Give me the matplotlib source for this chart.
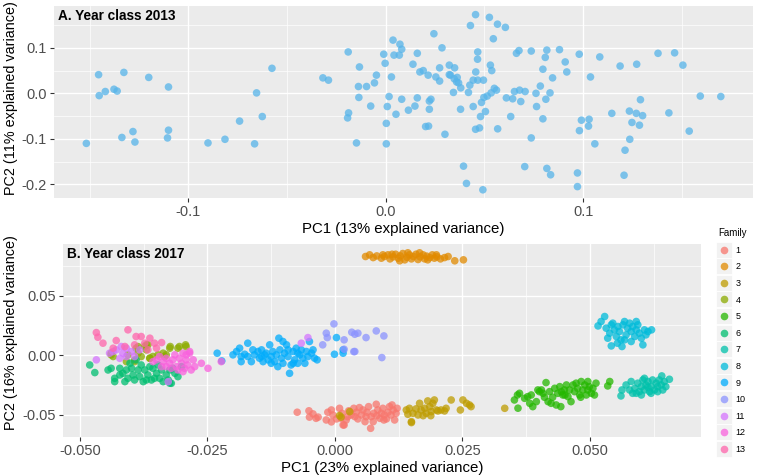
import matplotlib.pyplot as plt
from matplotlib.lines import Line2D
from matplotlib.legend_handler import HandlerTuple

plt.rcParams['font.family'] = ['Liberation Sans', 'DejaVu Sans']

# ---- panel A: year class 2013 (PC1, PC2)
pts_2013 = [
    (-0.1516, -0.110), (-0.1454, 0.041), (-0.1451, -0.005), (-0.1420, 0.004), (-0.1376, 0.009),
    (-0.1360, 0.005), (-0.1326, 0.046), (-0.1336, -0.097), (-0.1280, -0.084), (-0.1270, -0.107),
    (-0.1200, 0.035), (-0.1100, 0.014), (-0.1100, -0.081), (-0.1105, -0.098), (-0.0900, -0.109),
    (-0.0814, -0.101), (-0.0740, -0.061), (-0.0654, 0.001), (-0.0664, -0.111), (-0.0625, -0.051),
    (-0.0576, 0.055), (-0.0318, 0.034), (-0.0290, 0.029), (-0.0190, 0.091), (-0.0133, 0.058),
    (-0.0138, 0.015), (-0.0136, -0.009), (-0.0097, 0.015), (-0.0047, 0.040), (-0.0057, 0.023),
    (-0.0076, -0.028), (-0.0188, -0.043), (-0.0193, -0.054), (-0.0148, -0.109),
    (-0.0010, 0.086), (-0.0003, 0.066), (0.0003, -0.066), (0.0003, -0.111), (0.0008, -0.029),
    (0.0017, -0.007), (0.0029, 0.036), (0.0037, 0.117), (0.0042, 0.084), (0.0052, -0.046),
    (0.0069, 0.084), (0.0072, 0.108), (0.0081, 0.097), (0.0081, -0.013), (0.0115, -0.037),
    (0.0138, 0.064), (0.0148, -0.028), (0.0160, 0.088), (0.0160, -0.010), (0.0173, 0.047),
    (0.0190, 0.050), (0.0202, -0.073), (0.0217, -0.072), (0.0215, 0.040), (0.0221, -0.035),
    (0.0221, -0.017), (0.0229, -0.013), (0.0244, 0.131), (0.0254, 0.036), (0.0273, 0.027),
    (0.0273, 0.056), (0.0285, 0.100), (0.0300, -0.090), (0.0322, 0.062), (0.0322, 0.041),
    (0.0328, 0.040), (0.0343, 0.002), (0.0349, 0.056), (0.0347, 0.032), (0.0362, 0.035),
    (0.0359, 0.025), (0.0369, 0.023), (0.0380, 0.012), (0.0379, -0.035), (0.0394, -0.160),
    (0.0409, -0.198), (0.0419, 0.002), (0.0426, 0.018), (0.0429, 0.149), (0.0443, -0.029),
    (0.0443, 0.029), (0.0455, 0.173), (0.0456, 0.047), (0.0465, 0.075), (0.0466, 0.091),
    (0.0466, 0.029), (0.0455, -0.079), (0.0475, -0.076), (0.0480, -0.051), (0.0485, -0.020),
    (0.0492, -0.212), (0.0495, 0.029), (0.0497, -0.009), (0.0505, -0.040), (0.0514, -0.006),
    (0.0525, 0.167), (0.0530, 0.062), (0.0537, 0.050), (0.0534, 0.001), (0.0545, 0.120),
    (0.0550, 0.011), (0.0561, 0.007), (0.0566, 0.152), (0.0567, -0.078), (0.0606, 0.145),
    (0.0611, -0.010), (0.0633, -0.051), (0.0643, -0.012), (0.0652, 0.004), (0.0662, 0.088),
    (0.0675, 0.094), (0.0678, 0.007), (0.0684, -0.018), (0.0706, 0.004), (0.0704, -0.161),
    (0.0737, 0.093), (0.0737, -0.098), (0.0761, 0.000), (0.0764, -0.029), (0.0783, 0.016),
    (0.0796, 0.053), (0.0796, -0.056), (0.0808, 0.079), (0.0811, -0.013), (0.0816, 0.095),
    (0.0816, -0.165), (0.0832, 0.001), (0.0835, -0.179), (0.0845, 0.034), (0.0880, 0.096),
    (0.0909, 0.069), (0.0917, 0.047), (0.0971, -0.175), (0.0971, -0.205), (0.0980, 0.086),
    (0.0981, -0.082), (0.0991, -0.059), (0.1027, -0.072), (0.1030, -0.057), (0.1037, 0.036),
    (0.1059, -0.111), (0.1084, 0.080), (0.1145, -0.044), (0.1187, 0.060), (0.1207, -0.180),
    (0.1212, -0.125), (0.1234, -0.039), (0.1236, -0.101), (0.1247, -0.064), (0.1271, 0.064),
    (0.1269, -0.044), (0.1285, -0.070), (0.1290, -0.014), (0.1301, -0.049), (0.1379, 0.088),
    (0.1434, -0.043), (0.1463, 0.089), (0.1505, 0.062), (0.1537, -0.083), (0.1593, -0.006),
    (0.1697, -0.007),
]

# ---- panel B: year class 2017, one list per family
fam1 = [
    (-0.0074, -0.0479), (-0.0051, -0.0467), (-0.0043, -0.0493), (-0.0037, -0.0530), (-0.0017, -0.0544),
    (-0.0014, -0.0479), (-0.0007, -0.0460), (-0.0004, -0.0502), (0.0003, -0.0535), (0.0009, -0.0446),
    (0.0014, -0.0488), (0.0018, -0.0586), (0.0022, -0.0544), (0.0027, -0.0467), (0.0032, -0.0502),
    (0.0037, -0.0446), (0.0042, -0.0479), (0.0045, -0.0535), (0.0052, -0.0502), (0.0055, -0.0460),
    (0.0059, -0.0558), (0.0063, -0.0479), (0.0066, -0.0432), (0.0070, -0.0614), (0.0071, -0.0516),
    (0.0076, -0.0488), (0.0081, -0.0412), (0.0084, -0.0460), (0.0088, -0.0530), (0.0091, -0.0488),
    (0.0094, -0.0446), (0.0097, -0.0502), (0.0101, -0.0535), (0.0104, -0.0479), (0.0107, -0.0432),
    (0.0110, -0.0502), (0.0114, -0.0460), (0.0117, -0.0544), (0.0120, -0.0488), (0.0122, -0.0446),
    (0.0048, -0.0440), (0.0039, -0.0516), (0.0025, -0.0516), (0.0012, -0.0530), (0.0061, -0.0516),
    (0.0075, -0.0558), (0.0082, -0.0508), (0.0096, -0.0544), (0.0112, -0.0418), (-0.0050, -0.0520),
    (-0.0033, -0.0520), (-0.0007, -0.0560), (0.0016, -0.0586),
]
fam2 = [
    (0.0060, 0.0829), (0.0068, 0.0843), (0.0075, 0.0820), (0.0082, 0.0834), (0.0091, 0.0815),
    (0.0097, 0.0829), (0.0104, 0.0843), (0.0108, 0.0809), (0.0114, 0.0826), (0.0119, 0.0848),
    (0.0124, 0.0815), (0.0128, 0.0834), (0.0133, 0.0854), (0.0137, 0.0801), (0.0141, 0.0823),
    (0.0146, 0.0843), (0.0150, 0.0809), (0.0154, 0.0829), (0.0159, 0.0848), (0.0163, 0.0804),
    (0.0167, 0.0826), (0.0173, 0.0843), (0.0176, 0.0809), (0.0180, 0.0832), (0.0186, 0.0820),
    (0.0191, 0.0843), (0.0195, 0.0815), (0.0200, 0.0826), (0.0207, 0.0809), (0.0215, 0.0820),
    (0.0222, 0.0829), (0.0235, 0.0793), (0.0252, 0.0801), (0.0127, 0.0793), (0.0143, 0.0860),
    (0.0166, 0.0860), (0.0182, 0.0801), (0.0112, 0.0848), (0.0094, 0.0843), (0.0199, 0.0843),
]
fam3 = [
    (0.0140, -0.0460), (0.0146, -0.0446), (0.0150, -0.0558), (0.0153, -0.0488), (0.0159, -0.0451),
    (0.0163, -0.0502), (0.0169, -0.0460), (0.0173, -0.0508), (0.0176, -0.0446), (0.0179, -0.0488),
    (0.0182, -0.0384), (0.0186, -0.0432), (0.0189, -0.0474), (0.0192, -0.0404), (0.0195, -0.0376),
    (0.0199, -0.0460), (0.0202, -0.0468), (0.0208, -0.0460), (0.0215, -0.0468), (0.0218, -0.0446),
    (0.0228, -0.0376), (0.0246, -0.0460), (0.0251, -0.0376), (0.0258, -0.0404), (0.0264, -0.0418),
    (0.0267, -0.0432), (0.0143, -0.0496), (0.0166, -0.0404), (0.0188, -0.0508), (0.0333, -0.0446),
    (0.0150, -0.0566), (0.0009, -0.0507), (0.0029, -0.0474), (0.0012, -0.0520),
]
fam4 = [
    (-0.0439, 0.0017), (-0.0435, -0.0011), (-0.0409, -0.0054), (-0.0406, 0.0003), (-0.0390, 0.0059),
    (-0.0386, 0.0017), (-0.0380, -0.0011), (-0.0373, 0.0073), (-0.0370, 0.0045), (-0.0367, 0.0087),
    (-0.0363, -0.0026), (-0.0357, -0.0011), (-0.0347, 0.0003), (-0.0337, 0.0017), (-0.0331, 0.0003),
    (-0.0323, 0.0073), (-0.0305, 0.0073), (-0.0293, 0.0087), (-0.0393, -0.0054), (-0.0439, 0.0003),
    (-0.0386, 0.0072), (-0.0370, 0.0087), (-0.0324, 0.0059), (-0.0308, 0.0059), (-0.0292, 0.0072),
    (-0.0334, -0.0012), (-0.0393, -0.0040), (-0.0363, -0.0025),
]
fam5 = [
    (0.0352, -0.0376), (0.0358, -0.0334), (0.0362, -0.0320), (0.0359, -0.0445), (0.0372, -0.0362),
    (0.0378, -0.0348), (0.0382, -0.0404), (0.0385, -0.0334), (0.0388, -0.0432), (0.0395, -0.0390),
    (0.0398, -0.0292), (0.0401, -0.0306), (0.0405, -0.0292), (0.0408, -0.0320), (0.0414, -0.0230),
    (0.0418, -0.0390), (0.0421, -0.0306), (0.0424, -0.0404), (0.0427, -0.0353), (0.0431, -0.0278),
    (0.0434, -0.0418), (0.0437, -0.0320), (0.0441, -0.0264), (0.0443, -0.0432), (0.0444, -0.0306),
    (0.0447, -0.0334), (0.0450, -0.0292), (0.0454, -0.0250), (0.0457, -0.0348), (0.0460, -0.0292),
    (0.0463, -0.0390), (0.0467, -0.0250), (0.0470, -0.0306), (0.0473, -0.0235), (0.0476, -0.0278),
    (0.0480, -0.0334), (0.0483, -0.0221), (0.0486, -0.0292), (0.0490, -0.0250), (0.0493, -0.0334),
    (0.0496, -0.0292), (0.0499, -0.0264), (0.0503, -0.0320), (0.0506, -0.0278), (0.0509, -0.0334),
    (0.0512, -0.0235), (0.0535, -0.0258), (0.0539, -0.0221), (0.0411, -0.0353), (0.0451, -0.0334),
    (0.0482, -0.0353), (0.0496, -0.0221),
]
fam6 = [
    (-0.0481, -0.0082), (-0.0471, -0.0146), (-0.0445, -0.0124), (-0.0439, -0.0110), (-0.0432, -0.0194),
    (-0.0432, -0.0222), (-0.0422, -0.0110), (-0.0416, -0.0152), (-0.0409, -0.0124), (-0.0406, -0.0194),
    (-0.0399, -0.0110), (-0.0396, -0.0166), (-0.0393, -0.0208), (-0.0386, -0.0124), (-0.0383, -0.0180),
    (-0.0376, -0.0222), (-0.0373, -0.0124), (-0.0367, -0.0166), (-0.0360, -0.0208), (-0.0357, -0.0110),
    (-0.0350, -0.0152), (-0.0344, -0.0194), (-0.0340, -0.0124), (-0.0337, -0.0222), (-0.0331, -0.0166),
    (-0.0324, -0.0124), (-0.0321, -0.0236), (-0.0314, -0.0152), (-0.0308, -0.0180), (-0.0301, -0.0096),
    (-0.0390, -0.0039), (-0.0380, -0.0082), (-0.0363, -0.0096), (-0.0347, -0.0082), (-0.0422, -0.0166),
    (-0.0402, -0.0068), (-0.0327, -0.0208), (-0.0318, -0.0110), (-0.0370, -0.0208), (-0.0354, -0.0194),
    (-0.0412, -0.0222), (-0.0324, -0.0235),
]
fam7 = [
    (0.0561, -0.0342), (0.0563, -0.0292), (0.0571, -0.0250), (0.0578, -0.0292), (0.0584, -0.0320),
    (0.0588, -0.0278), (0.0594, -0.0235), (0.0597, -0.0306), (0.0601, -0.0264), (0.0604, -0.0208),
    (0.0607, -0.0292), (0.0610, -0.0250), (0.0614, -0.0221), (0.0617, -0.0306), (0.0620, -0.0264),
    (0.0623, -0.0208), (0.0627, -0.0292), (0.0630, -0.0235), (0.0633, -0.0264), (0.0636, -0.0208),
    (0.0640, -0.0250), (0.0641, -0.0174), (0.0646, -0.0221), (0.0649, -0.0264), (0.0656, -0.0202),
    (0.0581, -0.0221), (0.0591, -0.0320), (0.0607, -0.0194), (0.0620, -0.0320), (0.0633, -0.0306),
    (0.0643, -0.0292), (0.0614, -0.0269), (0.0601, -0.0334),
]
fam8 = [
    (0.0516, 0.0246), (0.0522, 0.0283), (0.0529, 0.0325), (0.0532, 0.0227), (0.0535, 0.0143),
    (0.0539, 0.0185), (0.0542, 0.0255), (0.0542, 0.0078), (0.0545, 0.0269), (0.0548, 0.0213),
    (0.0552, 0.0157), (0.0555, 0.0241), (0.0558, 0.0199), (0.0561, 0.0129), (0.0563, 0.0073),
    (0.0565, 0.0255), (0.0568, 0.0283), (0.0571, 0.0171), (0.0574, 0.0227), (0.0578, 0.0269),
    (0.0581, 0.0115), (0.0581, 0.0199), (0.0584, 0.0241), (0.0588, 0.0157), (0.0591, 0.0213),
    (0.0594, 0.0255), (0.0597, 0.0185), (0.0601, 0.0143), (0.0604, 0.0087), (0.0607, 0.0213),
    (0.0610, 0.0171), (0.0614, 0.0199), (0.0621, 0.0213), (0.0568, 0.0129), (0.0554, 0.0101),
    (0.0591, 0.0283),
]
fam9 = [
    (-0.0231, 0.0017), (-0.0200, 0.0003), (-0.0193, 0.0031), (-0.0187, 0.0059), (-0.0184, -0.0011),
    (-0.0177, 0.0008), (-0.0171, 0.0101), (-0.0164, -0.0054), (-0.0158, 0.0003), (-0.0151, 0.0031),
    (-0.0148, -0.0025), (-0.0144, 0.0045), (-0.0141, -0.0054), (-0.0138, 0.0003), (-0.0135, 0.0017),
    (-0.0131, -0.0039), (-0.0128, 0.0087), (-0.0125, -0.0011), (-0.0122, 0.0031), (-0.0118, -0.0054),
    (-0.0115, 0.0003), (-0.0112, -0.0096), (-0.0110, 0.0143), (-0.0108, 0.0045), (-0.0105, -0.0025),
    (-0.0102, 0.0115), (-0.0099, 0.0017), (-0.0095, 0.0087), (-0.0092, -0.0011), (-0.0089, -0.0152),
    (-0.0086, -0.0082), (-0.0082, 0.0031), (-0.0079, -0.0039), (-0.0076, 0.0059), (-0.0073, -0.0068),
    (-0.0069, 0.0003), (-0.0066, 0.0045), (-0.0063, -0.0025), (-0.0059, -0.0068), (-0.0056, 0.0031),
    (-0.0053, -0.0011), (-0.0050, 0.0115), (-0.0046, 0.0017), (-0.0043, 0.0045), (-0.0040, -0.0025),
    (-0.0035, -0.0039), (0.0003, 0.0148), (-0.0001, 0.0008), (0.0016, 0.0045), (0.0016, 0.0017),
    (-0.0184, -0.0054), (-0.0161, 0.0045), (-0.0125, -0.0068), (-0.0092, 0.0045), (-0.0073, 0.0017),
    (-0.0082, -0.0068), (-0.0102, -0.0068), (-0.0144, -0.0011), (-0.0171, -0.0011), (-0.0222, -0.0048),
]
fam10 = [
    (-0.0024, 0.0087), (-0.0017, 0.0185), (-0.0015, 0.0148), (-0.0002, 0.0263), (0.0018, 0.0129),
    (0.0033, 0.0193), (0.0039, 0.0176), (0.0045, 0.0185), (0.0039, 0.0031), (0.0061, 0.0148),
    (0.0081, 0.0204), (0.0096, 0.0162), (0.0092, -0.0020), (0.0018, 0.0050), (0.0037, 0.0030),
]
fam11 = [
    (-0.0468, -0.0039), (-0.0442, 0.0017), (-0.0429, 0.0045), (-0.0419, 0.0073), (-0.0416, 0.0017),
    (-0.0409, 0.0059), (-0.0399, 0.0031), (-0.0383, 0.0045), (-0.0409, -0.0011), (-0.0422, -0.0026),
    (-0.0435, 0.0031), (-0.0393, -0.0011), (-0.0327, -0.0222), (-0.0066, 0.0101), (-0.0053, 0.0148),
]
fam12 = [
    (-0.0350, -0.0039), (-0.0344, -0.0011), (-0.0337, -0.0054), (-0.0331, -0.0026), (-0.0324, -0.0068),
    (-0.0318, -0.0039), (-0.0314, 0.0003), (-0.0311, -0.0096), (-0.0305, -0.0026), (-0.0301, -0.0068),
    (-0.0298, 0.0017), (-0.0295, -0.0110), (-0.0292, -0.0039), (-0.0289, -0.0082), (-0.0285, 0.0017),
    (-0.0282, -0.0124), (-0.0278, -0.0039), (-0.0275, -0.0096), (-0.0285, 0.0031), (-0.0262, -0.0068),
    (-0.0249, -0.0110), (-0.0321, -0.0110), (-0.0308, -0.0124), (-0.0331, -0.0096), (-0.0340, -0.0096),
    (-0.0298, -0.0138), (-0.0292, 0.0003), (-0.0357, -0.0054), (-0.0223, -0.0054),
]
fam13 = [
    (-0.0468, 0.0190), (-0.0465, 0.0151), (-0.0455, 0.0101), (-0.0429, 0.0123), (-0.0406, 0.0213),
    (-0.0390, 0.0157), (-0.0380, 0.0157), (-0.0363, 0.0143), (-0.0354, 0.0101), (-0.0340, 0.0106),
    (-0.0435, 0.0059), (-0.0412, 0.0073), (-0.0393, 0.0087), (-0.0373, 0.0101), (-0.0350, 0.0059),
    (-0.0367, 0.0045),
]
families = [fam1, fam2, fam3, fam4, fam5, fam6, fam7, fam8, fam9, fam10, fam11, fam12, fam13]
family_labels = [str(i) for i in range(1, 14)]
# ggplot2 default hue palette for 13 levels
family_colors = ['#F8766D', '#E18A00', '#BE9C00', '#8CAB00', '#24B700', '#00BE70', '#00C1AB',
                 '#00BBDA', '#00ACFC', '#8B93FF', '#D575FE', '#F962DD', '#FF65AC']

fig = plt.figure(figsize=(7.59, 4.75), dpi=100)
axA = fig.add_axes([0.0711, 0.5832, 0.921, 0.4042])
axB = fig.add_axes([0.0826, 0.080, 0.841, 0.4063])


def gg_style(ax, xmaj, ymaj, xmin, ymin):
    ax.set_facecolor('#EBEBEB')
    for s in ax.spines.values():
        s.set_visible(False)
    ax.set_xticks(xmaj)
    ax.set_yticks(ymaj)
    ax.set_xticks(xmin, minor=True)
    ax.set_yticks(ymin, minor=True)
    ax.grid(which='major', color='white', lw=1.0)
    ax.grid(which='minor', color='white', lw=0.5)
    ax.set_axisbelow(True)
    ax.tick_params(which='major', length=3, width=0.8, color='#333333', labelcolor='#4D4D4D',
                   labelsize=10.5, pad=2)
    ax.tick_params(which='minor', length=0)


# panel A
xa = [p[0] for p in pts_2013]
ya = [p[1] for p in pts_2013]
axA.scatter(xa, ya, s=30, color='#56B4E9', alpha=0.75, edgecolors='none', zorder=3)
axA.set_xlim(-0.168, 0.186)
axA.set_ylim(-0.23, 0.192)
gg_style(axA, [-0.1, 0.0, 0.1], [-0.2, -0.1, 0.0, 0.1],
         [-0.15, -0.05, 0.05, 0.15], [-0.15, -0.05, 0.05, 0.15])
axA.set_xticklabels(['-0.1', '0.0', '0.1'])
axA.set_yticklabels(['-0.2', '-0.1', '0.0', '0.1'])
axA.set_xlabel('PC1 (13% explained variance)', fontsize=10.8, labelpad=2)
axA.set_ylabel('PC2 (11% explained variance)', fontsize=10.4)
axA.yaxis.set_label_coords(-0.051, 0.518)
axA.text(0.006, 0.985, 'A. Year class 2013', transform=axA.transAxes, fontsize=9.8,
         fontweight='bold', va='top', ha='left')

# panel B
for pts, col, lab in zip(families, family_colors, family_labels):
    axB.scatter([p[0] for p in pts], [p[1] for p in pts], s=30, color=col, alpha=0.75,
                edgecolors='none', zorder=3, label=lab)
axB.set_xlim(-0.0534, 0.0718)
axB.set_ylim(-0.0687, 0.0934)
gg_style(axB, [-0.05, -0.025, 0.0, 0.025, 0.05], [-0.05, 0.0, 0.05],
         [-0.0375, -0.0125, 0.0125, 0.0375, 0.0625], [-0.025, 0.025, 0.075])
axB.set_xticklabels(['-0.050', '-0.025', '0.000', '0.025', '0.050'])
axB.set_yticklabels(['-0.05', '0.00', '0.05'])
axB.set_xlabel('PC1 (23% explained variance)', fontsize=10.8, labelpad=2)
axB.set_ylabel('PC2 (16% explained variance)', fontsize=10.4)
axB.yaxis.set_label_coords(-0.070, 0.539)
axB.text(0.006, 0.985, 'B. Year class 2017', transform=axB.transAxes, fontsize=9.8,
         fontweight='bold', va='top', ha='left')

# legend: grey key square with the coloured dot on top
handles = [(Line2D([], [], ls='none', marker='s', ms=11.5, color='#F2F2F2', mec='white', mew=0.6),
            Line2D([], [], ls='none', marker='o', ms=5.5, color=c, alpha=0.75, mec='none'))
           for c in family_colors]
leg = fig.legend(handles, family_labels, title='Family', loc='upper left',
                 bbox_to_anchor=(0.942, 0.527), frameon=False, fontsize=6.5,
                 title_fontsize=7, labelspacing=0.84, handlelength=1.2, handletextpad=0.7,
                 borderaxespad=0, handler_map={tuple: HandlerTuple(ndivide=1, pad=0)})
leg._legend_box.align = 'left'

fig.savefig('out.png', dpi=100)
